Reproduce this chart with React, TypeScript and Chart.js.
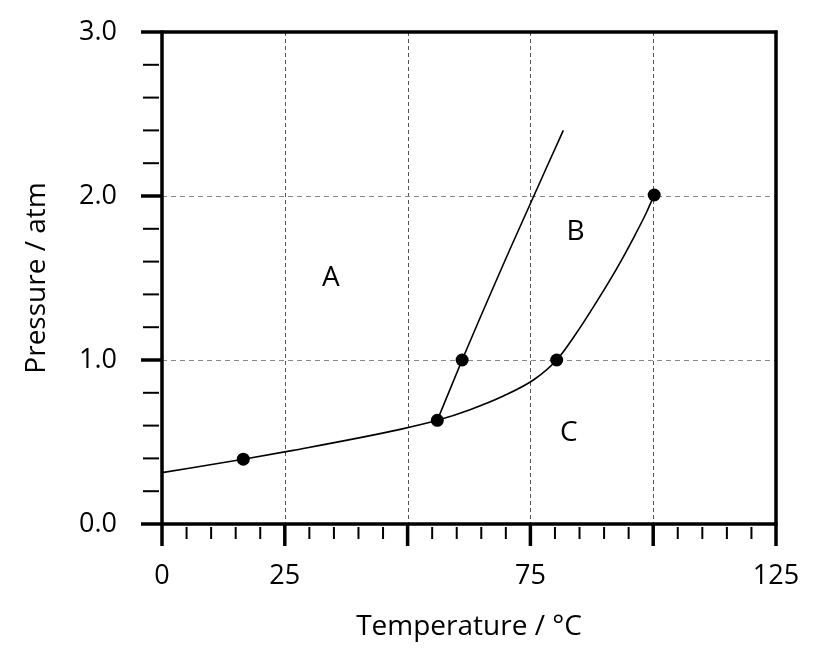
import React, { useEffect, useRef } from 'react';
import { Chart, registerables } from 'chart.js';

Chart.register(...registerables);

// Lower boundary curve (A/C then B/C)
const curve1T = [0, 16.55, 26.7, 48.5, 56.05, 62.7, 69.5, 75.9, 80.35, 84.1, 88.5, 92.6, 96.3, 98.7, 100.2];
const curve1P = [0.313, 0.395, 0.449, 0.577, 0.632, 0.697, 0.78, 0.884, 1.0, 1.152, 1.356, 1.559, 1.762, 1.904, 2.006];

// Steep boundary line (A/B)
const curve2T = [56.05, 61.1, 71.2, 81.7];
const curve2P = [0.632, 1.0, 1.7, 2.4];

// Marked points
const pointT = [16.55, 56.05, 61.1, 80.35, 100.2];
const pointP = [0.395, 0.632, 1.0, 1.0, 2.006];

// Region labels
const regionNames = ['A', 'B', 'C'];
const regionT = [34.4, 84.2, 82.8];
const regionP = [1.5, 1.78, 0.557];

// Axis labels
const xLabelValues = [0, 25, 75, 125];
const yLabelValues = [0, 1, 2, 3];
const xGridValues = [25, 50, 75, 100];
const yGridValues = [1, 2];

const FONT = '"Open Sans", "DejaVu Sans", sans-serif';

const framePlugin = {
  id: 'frame',
  beforeDatasetsDraw(chart: any) {
    const { ctx, chartArea: a, scales } = chart;
    const x = scales.x;
    const y = scales.y;
    ctx.save();
    ctx.lineWidth = 1;
    ctx.strokeStyle = '#555';
    ctx.setLineDash([4, 3]);
    for (const v of xGridValues) {
      const px = Math.round(x.getPixelForValue(v)) + 0.5;
      ctx.beginPath();
      ctx.moveTo(px, a.top);
      ctx.lineTo(px, a.bottom);
      ctx.stroke();
    }
    ctx.strokeStyle = '#888';
    ctx.setLineDash([5, 4]);
    for (const v of yGridValues) {
      const py = Math.round(y.getPixelForValue(v)) + 0.5;
      ctx.beginPath();
      ctx.moveTo(a.left, py);
      ctx.lineTo(a.right, py);
      ctx.stroke();
    }
    ctx.restore();
  },
  afterDatasetsDraw(chart: any) {
    const { ctx, chartArea: a, scales } = chart;
    const x = scales.x;
    const y = scales.y;
    ctx.save();
    ctx.setLineDash([]);
    ctx.strokeStyle = '#000';
    ctx.lineCap = 'butt';

    // minor ticks
    ctx.lineWidth = 2;
    for (const t of x.ticks) {
      if (Math.abs(t.value % 25) < 1e-6) continue;
      const px = x.getPixelForValue(t.value);
      ctx.beginPath();
      ctx.moveTo(px, a.bottom + 3);
      ctx.lineTo(px, a.bottom + 15);
      ctx.stroke();
    }
    for (const t of y.ticks) {
      if (Math.abs(t.value - Math.round(t.value)) < 1e-6) continue;
      const py = y.getPixelForValue(t.value);
      ctx.beginPath();
      ctx.moveTo(a.left - 19, py);
      ctx.lineTo(a.left - 3, py);
      ctx.stroke();
    }

    // major ticks and frame
    ctx.lineWidth = 3.5;
    for (const t of x.ticks) {
      if (Math.abs(t.value % 25) >= 1e-6) continue;
      const px = x.getPixelForValue(t.value);
      ctx.beginPath();
      if (t.value > 0 && t.value < 125) {
        ctx.moveTo(px, a.bottom);
      } else {
        ctx.moveTo(px, a.top - 1.5);
      }
      ctx.lineTo(px, a.bottom + 22);
      ctx.stroke();
    }
    for (const t of y.ticks) {
      if (Math.abs(t.value - Math.round(t.value)) >= 1e-6) continue;
      const py = y.getPixelForValue(t.value);
      ctx.beginPath();
      ctx.moveTo(a.left - 21, py);
      if (t.value === 0 || t.value === 3) {
        ctx.lineTo(a.right + 1.5, py);
      } else {
        ctx.lineTo(a.left, py);
      }
      ctx.stroke();
    }

    // region labels
    ctx.fillStyle = '#000';
    ctx.font = `28px ${FONT}`;
    ctx.textAlign = 'center';
    ctx.textBaseline = 'middle';
    regionNames.forEach((name, i) => {
      ctx.fillText(name, x.getPixelForValue(regionT[i]), y.getPixelForValue(regionP[i]));
    });
    ctx.restore();
  },
};

export default function App() {
  const canvasRef = useRef<HTMLCanvasElement | null>(null);

  useEffect(() => {
    if (!canvasRef.current) return;
    const chart = new Chart(canvasRef.current, {
      type: 'line',
      data: {
        datasets: [
          {
            label: 'curve1',
            data: curve1T.map((t, i) => ({ x: t, y: curve1P[i] })),
            borderColor: '#000',
            borderWidth: 1.6,
            pointRadius: 0,
            cubicInterpolationMode: 'monotone',
            fill: false,
          },
          {
            label: 'curve2',
            data: curve2T.map((t, i) => ({ x: t, y: curve2P[i] })),
            borderColor: '#000',
            borderWidth: 1.6,
            pointRadius: 0,
            cubicInterpolationMode: 'monotone',
            fill: false,
          },
          {
            label: 'points',
            data: pointT.map((t, i) => ({ x: t, y: pointP[i] })),
            showLine: false,
            pointRadius: 6.5,
            pointBackgroundColor: '#000',
            pointBorderColor: '#000',
            pointBorderWidth: 0,
          },
        ],
      },
      options: {
        animation: false,
        responsive: true,
        maintainAspectRatio: false,
        layout: { padding: { left: 0, right: 40, top: 32, bottom: 0 } },
        plugins: { legend: { display: false }, tooltip: { enabled: false } },
        scales: {
          x: {
            type: 'linear',
            min: 0,
            max: 125,
            grid: { display: false, drawTicks: false },
            border: { display: false },
            ticks: {
              stepSize: 5,
              autoSkip: false,
              maxRotation: 0,
              padding: 36,
              color: '#000',
              font: { family: FONT, size: 27 },
              callback: (v: any) => (xLabelValues.includes(Number(v)) ? String(v) : ''),
            },
            title: {
              display: true,
              text: 'Temperature / °C',
              color: '#000',
              font: { family: FONT, size: 28 },
              padding: { top: 0, bottom: 24 },
            },
            afterFit: (s: any) => {
              s.height = 144;
              s.paddingLeft = 0;
              s.paddingRight = 0;
              s.paddingTop = 0;
              s.paddingBottom = 0;
            },
          },
          y: {
            type: 'linear',
            min: 0,
            max: 3,
            grid: { display: false, drawTicks: false },
            border: { display: false },
            ticks: {
              stepSize: 0.2,
              autoSkip: false,
              padding: 45,
              color: '#000',
              font: { family: FONT, size: 27 },
              callback: (v: any) => {
                const n = Number(v);
                const r = Math.round(n);
                return Math.abs(n - r) < 1e-6 && yLabelValues.includes(r) ? r.toFixed(1) : '';
              },
            },
            title: {
              display: true,
              text: 'Pressure / atm',
              color: '#000',
              font: { family: FONT, size: 28 },
              padding: { top: 20, bottom: 0 },
            },
            afterFit: (s: any) => {
              s.width = 162;
              s.paddingLeft = 0;
              s.paddingRight = 0;
              s.paddingTop = 0;
              s.paddingBottom = 0;
            },
          },
        },
      },
      plugins: [framePlugin],
    } as any);
    return () => chart.destroy();
  }, []);

  return (
    <div style={{ position: 'fixed', left: 0, top: 0, width: 816, height: 668, background: '#fff' }}>
      <canvas ref={canvasRef} />
    </div>
  );
}
